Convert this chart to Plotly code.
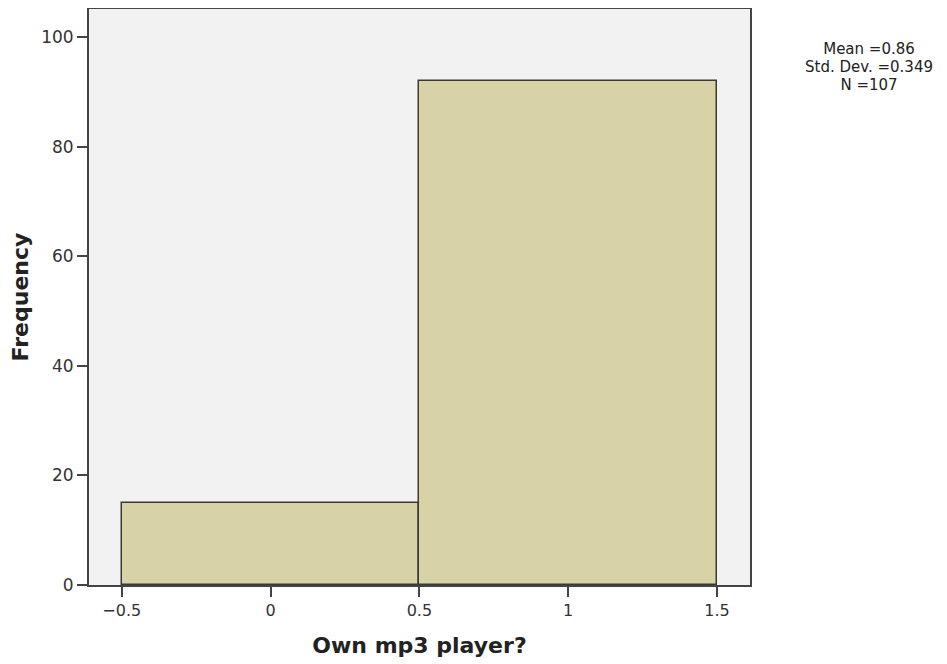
import plotly.graph_objects as go

categories = [0, 1]
frequencies = [15, 92]
x_tick_vals = [-0.5, 0, 0.5, 1, 1.5]
x_tick_text = ["\u22120.5", "0", "0.5", "1", "1.5"]
y_tick_vals = [0, 20, 40, 60, 80, 100]
stats_lines = ["Mean =0.86", "Std. Dev. =0.349", "N =107"]

FONT = "DejaVu Sans"
AXC = "#444444"

fig = go.Figure()
fig.add_trace(go.Bar(
    x=categories, y=frequencies, width=1,
    marker=dict(color="#d7d3a6", line=dict(color="#3a3a33", width=1.5)),
    hoverinfo="x+y",
))

fig.update_layout(
    width=940, height=657,
    margin=dict(l=81, r=198, t=1, b=80),
    paper_bgcolor="white",
    plot_bgcolor="#f2f2f2",
    showlegend=False,
    bargap=0,
    font=dict(family=FONT, color="#222222", size=16),
    xaxis=dict(
        range=[-0.61, 1.611], automargin=False,
        tickvals=x_tick_vals, ticktext=x_tick_text,
        ticks="outside", ticklen=10, tickwidth=2, tickcolor=AXC,
        showline=True, linecolor=AXC, linewidth=2, mirror=True,
        showgrid=False, zeroline=False,
        tickfont=dict(size=16, color="#333333"),
        title=dict(text="<b>Own mp3 player?</b>", font=dict(size=22, color="#222222"), standoff=18),
    ),
    yaxis=dict(
        range=[0, 105.1], automargin=False,
        tickvals=y_tick_vals,
        ticks="outside", ticklen=10, tickwidth=2, tickcolor=AXC,
        showline=True, linecolor=AXC, linewidth=2, mirror=True,
        showgrid=False, zeroline=False,
        tickfont=dict(size=17, color="#333333"),
        title=dict(text="<b>Frequency</b>", font=dict(size=22, color="#222222"), standoff=10),
    ),
)

fig.add_annotation(
    xref="paper", yref="paper", x=1.18, y=0.8995, xanchor="center", yanchor="middle",
    text="<br>".join('<span style="font-size:15px">' + s + "</span>" for s in stats_lines),
    showarrow=False, align="center",
    font=dict(size=14, color="#222222", family=FONT),
)

fig.write_html("out.html")
